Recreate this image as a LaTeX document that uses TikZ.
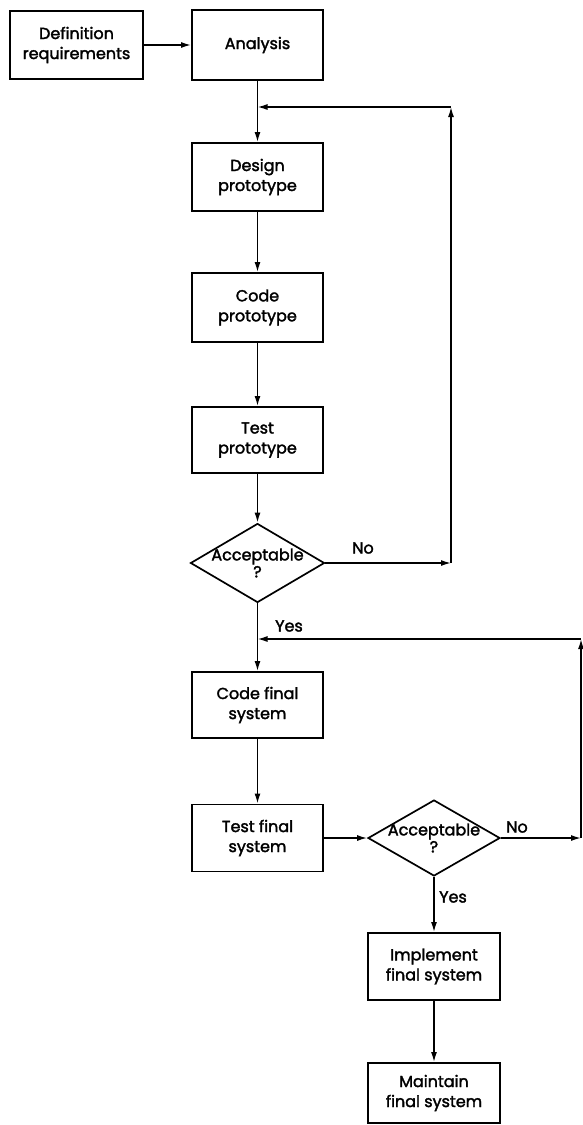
\documentclass[tikz,border=0pt]{standalone}
\usepackage{fontspec}
\setmainfont{Poppins}[FakeBold=2]
\usetikzlibrary{shapes.geometric,arrows.meta}
\begin{document}
\begin{tikzpicture}[x=1pt,y=-1pt,
  txt/.style={font=\fontsize{16}{20}\selectfont},
  box/.style={draw,line width=1.9pt,inner sep=0pt,align=center,txt},
  dia/.style={draw,diamond,line width=1.7pt,inner sep=0pt,align=center,txt},
  flow/.style={line width=1.5pt,-{Latex[length=10pt,width=6pt]}}
]
\useasboundingbox (0,0) rectangle (583,1125);
% nodes
\node[box,minimum width=133pt,minimum height=68pt] (def) at (76.5,45) {Definition\\requirements};
\node[box,minimum width=131pt,minimum height=70pt] (ana) at (257.5,45) {Analysis};
\node[box,minimum width=131pt,minimum height=68pt] (des) at (257.5,177) {Design\\prototype};
\node[box,minimum width=131pt,minimum height=69pt] (cod) at (257.5,307.5) {Code\\prototype};
\node[box,minimum width=131pt,minimum height=66pt] (tst) at (257.5,440) {Test\\prototype};
\node[dia,minimum width=134pt,minimum height=79pt] (acc1) at (257.5,563) {\makebox[0pt]{Acceptable}\\[-3pt]?};
\node[box,minimum width=131pt,minimum height=66pt] (cfs) at (257.5,705) {Code final\\system};
\node[box,minimum width=131pt,minimum height=67pt] (tfs) at (257.5,838) {Test final\\system};
\node[dia,minimum width=132pt,minimum height=76pt] (acc2) at (434,838) {\makebox[0pt]{Acceptable}\\[-3pt]?};
\node[box,minimum width=132pt,minimum height=67pt] (imp) at (434,966.5) {Implement\\final system};
\node[box,minimum width=132pt,minimum height=60pt] (mnt) at (434,1093) {Maintain\\final system};
% junctions and corners
\coordinate (j1) at (257.5,107);
\coordinate (j2) at (257.5,639);
\coordinate (c1a) at (451,563);
\coordinate (c1b) at (451,107);
\coordinate (c2a) at (581,838);
\coordinate (c2b) at (581,639);
% connectors
\draw[flow] (def.east) -- (ana.west);
\draw[flow] (ana.south) -- (des.north);
\draw[flow] (des.south) -- (cod.north);
\draw[flow] (cod.south) -- (tst.north);
\draw[flow] (tst.south) -- (acc1.north);
\draw[flow] (acc1.south) -- (cfs.north);
\draw[flow] (acc1.east) -- (c1a);
\draw[flow] (c1a) -- (c1b);
\draw[flow] (c1b) -- (j1);
\draw[flow] (cfs.south) -- (tfs.north);
\draw[flow] (tfs.east) -- (acc2.west);
\draw[flow] (acc2.east) -- (c2a);
\draw[flow] (c2a) -- (c2b);
\draw[flow] (c2b) -- (j2);
\draw[flow] (acc2.south) -- (imp.north);
\draw[flow] (imp.south) -- (mnt.north);
% labels
\node[txt] (no1) at (363,548) {No};
\node[txt] (yes1) at (289,626) {Yes};
\node[txt] (no2) at (517,827) {No};
\node[txt] (yes2) at (453,897) {Yes};
\end{tikzpicture}
\end{document}
